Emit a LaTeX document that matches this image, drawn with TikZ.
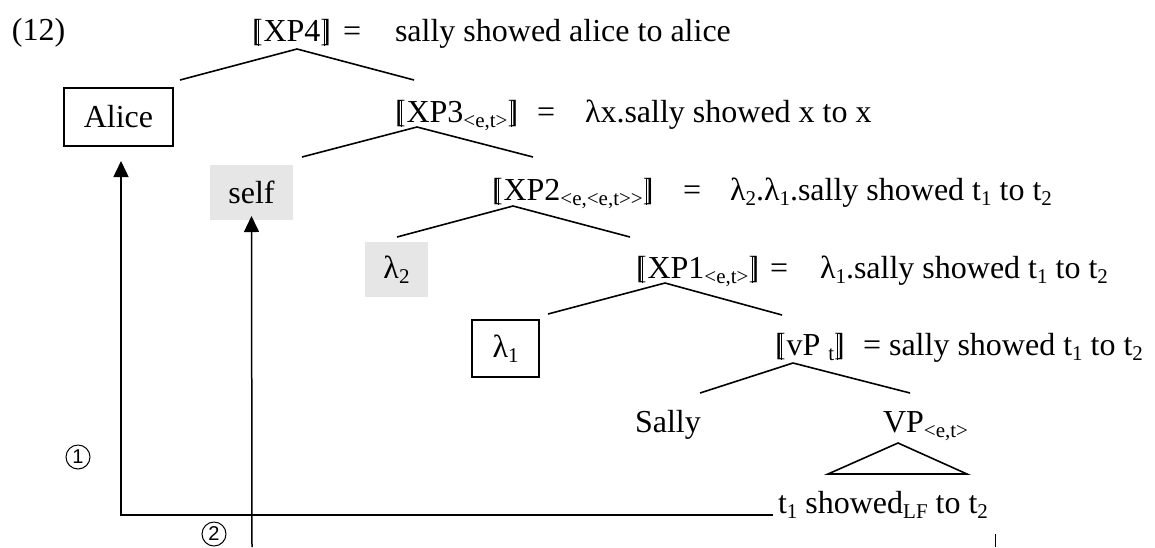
\documentclass[tikz,border=0pt]{standalone}
\usepackage{fontspec}
\setmainfont{Liberation Serif}
\newfontfamily\circfont{Liberation Sans}
\usetikzlibrary{arrows.meta}
\definecolor{boxgray}{RGB}{230,230,230}
\newcommand{\dn}[1]{\raisebox{-5pt}{\fontsize{21}{21}\selectfont #1}}
\newcommand{\lb}{\rlap{[}\kern0.2em\rule[-0.15em]{0.03em}{0.80em}\kern0.13em}
\newcommand{\rb}{\rlap{]}\kern0.10em\rule[-0.15em]{0.03em}{0.80em}\kern0.198em}
\begin{document}
\begin{tikzpicture}[x=1pt,y=-1pt,
  every node/.style={font=\fontsize{32}{38}\selectfont, inner sep=0pt, outer sep=0pt},
  txt/.style={anchor=base west},
  wbox/.style={draw, line width=1.3pt},
  gbox/.style={fill=boxgray},
  circ/.style={draw, circle, line width=1pt, minimum size=24pt, font=\circfont\fontsize{20}{20}\selectfont},
  branch/.style={line width=1.6pt},
  arr/.style={line width=1.5pt, -{Triangle[width=15pt,length=16pt]}}]
\useasboundingbox (0,0) rectangle (1155,547);

% labels
\node[txt] (ex) at (12,40) {(12)};
\node[txt] (xp4) at (252,41) {\lb XP4\rb};
\node[txt] (eq4) at (343,41) {=};
\node[txt] (v4) at (395,41) {sally showed alice to alice};

\node[wbox, minimum width=109pt, minimum height=58pt] (alice) at (118.5,117) {Alice};

\node[txt] (xp3) at (395,122) {\lb XP3\dn{<e,t>}\rb};
\node[txt] (eq3) at (537,122) {=};
\node[txt] (v3) at (585,122) {λx.sally showed x to x};

\node[gbox, minimum width=83pt, minimum height=55pt] (self) at (251.5,192.5) {self};

\node[txt] (xp2) at (492,200) {\lb XP2\dn{<e,<e,t>\kern0pt>}\rb};
\node[txt] (eq2) at (683,200) {=};
\node[txt] (v2) at (730,200) {λ\dn{2}.λ\dn{1}.sally showed t\dn{1} to t\dn{2}};

\node[gbox, minimum width=63pt, minimum height=55pt] (l2) at (396.5,269.5) {λ\dn{2}};

\node[txt] (xp1) at (636,278) {\lb XP1\dn{<e,t>}\rb};
\node[txt] (eq1) at (770,278) {=};
\node[txt] (v1) at (820,278) {λ\dn{1}.sally showed t\dn{1} to t\dn{2}};

\node[wbox, minimum width=67pt, minimum height=57pt] (l1) at (505.5,348.5) {λ\dn{1}};

\node[txt] (vp) at (775,355) {\lb vP \dn{t}\rb};
\node[txt] (vpv) at (863,355) {= sally showed t\dn{1} to t\dn{2}};

\node[txt] (sally) at (635,432) {Sally};
\node[txt] (VP) at (883,432) {VP\dn{<e,t>}};
\node[txt] (tl) at (778,513) {t\dn{1} showed\dn{LF} to t\dn{2}};

\node[circ] (c1) at (78,457) {1};
\node[circ] (c2) at (214,534) {2};

% branches
\coordinate (a4) at (297,49);  \coordinate (a4l) at (180,80);  \coordinate (a4r) at (414,80);
\coordinate (a3) at (417,127); \coordinate (a3l) at (302,157); \coordinate (a3r) at (533,157);
\coordinate (a2) at (513,206); \coordinate (a2l) at (397,237); \coordinate (a2r) at (630,237);
\coordinate (a1) at (665,283); \coordinate (a1l) at (548,314); \coordinate (a1r) at (782,315);
\coordinate (av) at (793,363); \coordinate (avl) at (700,393); \coordinate (avr) at (910,393);
\coordinate (tA) at (898,443); \coordinate (tL) at (828,474); \coordinate (tR) at (967,474);

\draw[branch] (a4l) -- (a4) -- (a4r);
\draw[branch] (a3l) -- (a3) -- (a3r);
\draw[branch] (a2l) -- (a2) -- (a2r);
\draw[branch] (a1l) -- (a1) -- (a1r);
\draw[branch] (avl) -- (av) -- (avr);
\draw[branch] (tL) -- (tA) -- (tR) -- cycle;

% movement arrows
\coordinate (hend) at (773,515);
\coordinate (corner) at (121,515);
\path ([yshift=-15pt]alice.south) coordinate (atip);
\draw[arr] (hend) -- (corner) -- (corner |- atip);
\coordinate (bot2) at (252,547);
\draw[arr] (bot2) -- ([yshift=4pt]self.south);

\coordinate (tk1) at (995,534); \coordinate (tk2) at (995,547);
\draw[line width=1pt] (tk1) -- (tk2);
\end{tikzpicture}
\end{document}
